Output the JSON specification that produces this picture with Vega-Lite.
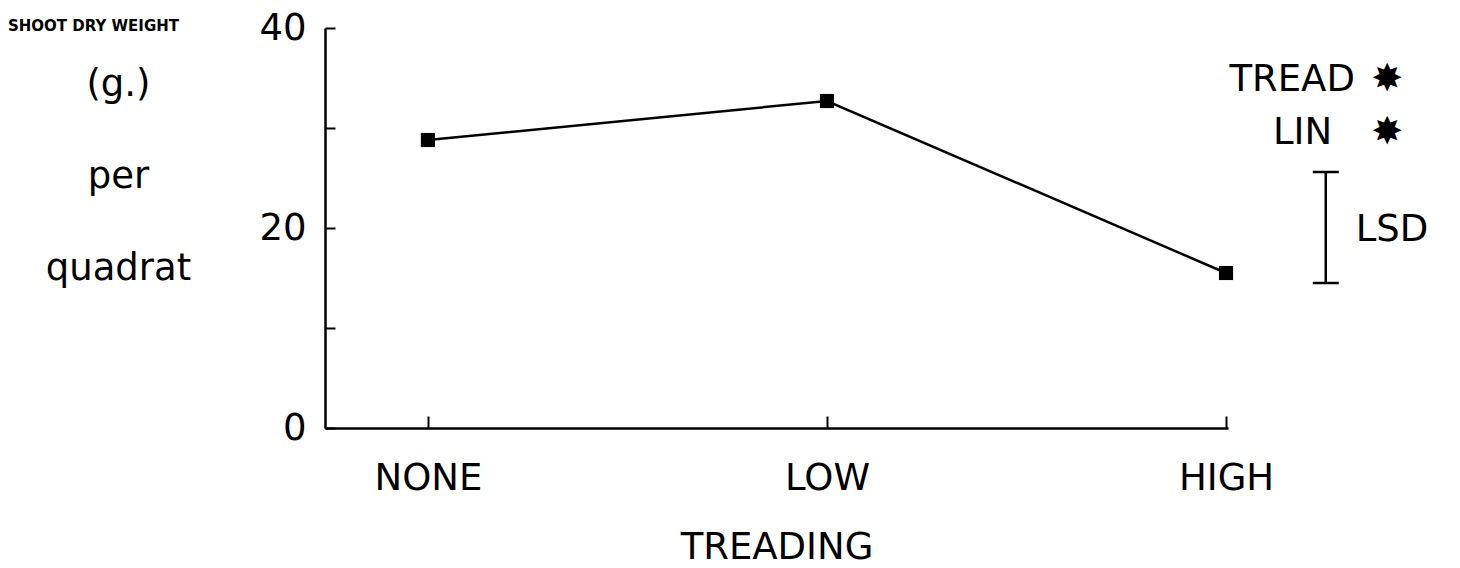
{
  "$schema": "https://vega.github.io/schema/vega-lite/v6.json",
  "width": 903,
  "height": 400,
  "autosize": {"type": "none"},
  "padding": {"left": 325, "top": 28, "right": 232, "bottom": 140},
  "background": "white",
  "title": {
    "text": "SHOOT DRY WEIGHT",
    "anchor": "start",
    "frame": "group",
    "orient": "top",
    "offset": 0,
    "dx": -317,
    "dy": 25,
    "fontSize": 15,
    "fontWeight": "bold",
    "font": "DejaVu Sans",
    "color": "black"
  },
  "config": {
    "view": {"stroke": null},
    "font": "DejaVu Sans",
    "axis": {
      "domainColor": "black",
      "domainWidth": 2.5,
      "tickColor": "black",
      "tickWidth": 2,
      "grid": false,
      "labelColor": "black",
      "titleColor": "black",
      "labelFont": "DejaVu Sans",
      "titleFont": "DejaVu Sans",
      "labelFontWeight": "normal",
      "titleFontWeight": "normal"
    }
  },
  "datasets": {
    "growth": [
      {"treading": "NONE", "level": 0, "weight": 28.8},
      {"treading": "LOW", "level": 1, "weight": 32.7},
      {"treading": "HIGH", "level": 2, "weight": 15.5}
    ],
    "lsd": [
      {"label": "LSD", "lsd_low": 14.5, "lsd_high": 25.6}
    ]
  },
  "layer": [
    {
      "data": {"name": "growth"},
      "mark": {"type": "line", "color": "black", "strokeWidth": 2.5},
      "encoding": {
        "x": {
          "field": "level",
          "type": "quantitative",
          "scale": {"domain": [-0.258, 2.005], "nice": false, "zero": false},
          "axis": {
            "values": [0, 1, 2],
            "labelExpr": "['NONE','LOW','HIGH'][datum.value]",
            "tickSize": -12,
            "labelFontSize": 37,
            "labelPadding": 44,
            "labelFlush": false,
            "title": "TREADING",
            "titleFontSize": 37,
            "titlePadding": 33
          }
        },
        "y": {
          "field": "weight",
          "type": "quantitative",
          "scale": {"domain": [0, 40], "nice": false},
          "axis": {
            "values": [0, 10, 20, 30, 40],
            "labelExpr": "datum.value % 20 == 0 ? datum.label : ''",
            "tickSize": -10,
            "labelFontSize": 37,
            "labelPadding": 29,
            "title": ["(g.)", "per", "quadrat"],
            "titleFontSize": 37,
            "titleAngle": 0,
            "titleAlign": "center",
            "titleBaseline": "top",
            "titleLineHeight": 92,
            "titleX": -207,
            "titleY": 38
          }
        }
      }
    },
    {
      "data": {"name": "growth"},
      "mark": {"type": "point", "shape": "square", "filled": true, "color": "black", "size": 200, "opacity": 1},
      "encoding": {
        "x": {"field": "level", "type": "quantitative"},
        "y": {"field": "weight", "type": "quantitative"}
      }
    },
    {
      "data": {"name": "lsd"},
      "mark": {"type": "rule", "color": "black", "strokeWidth": 2.5},
      "encoding": {
        "x": {"datum": 2.25},
        "y": {"field": "lsd_low", "type": "quantitative"},
        "y2": {"field": "lsd_high"}
      }
    },
    {
      "data": {"name": "lsd"},
      "mark": {"type": "tick", "orient": "horizontal", "color": "black", "thickness": 2.5, "size": 26, "opacity": 1},
      "encoding": {
        "x": {"datum": 2.25},
        "y": {"field": "lsd_low", "type": "quantitative"}
      }
    },
    {
      "data": {"name": "lsd"},
      "mark": {"type": "tick", "orient": "horizontal", "color": "black", "thickness": 2.5, "size": 26, "opacity": 1},
      "encoding": {
        "x": {"datum": 2.25},
        "y": {"field": "lsd_high", "type": "quantitative"}
      }
    },
    {
      "data": {"name": "lsd"},
      "mark": {"type": "text", "align": "left", "baseline": "middle", "fontSize": 37, "color": "black"},
      "encoding": {
        "x": {"datum": 2.325},
        "y": {"datum": 19.8},
        "text": {"field": "label"}
      }
    },
    {
      "data": {"values": [{}]},
      "mark": {"type": "text", "text": "TREAD", "align": "right", "baseline": "middle", "fontSize": 37, "color": "black"},
      "encoding": {
        "x": {"datum": 2.323},
        "y": {"datum": 34.8}
      }
    },
    {
      "data": {"values": [{}]},
      "mark": {"type": "text", "text": "LIN", "align": "right", "baseline": "middle", "fontSize": 37, "color": "black"},
      "encoding": {
        "x": {"datum": 2.266},
        "y": {"datum": 29.5}
      }
    },
    {
      "data": {"values": [{}]},
      "mark": {"type": "text", "text": "✸", "align": "center", "baseline": "middle", "fontSize": 38, "color": "black"},
      "encoding": {
        "x": {"datum": 2.404},
        "y": {"datum": 34.8}
      }
    },
    {
      "data": {"values": [{}]},
      "mark": {"type": "text", "text": "✸", "align": "center", "baseline": "middle", "fontSize": 38, "color": "black"},
      "encoding": {
        "x": {"datum": 2.404},
        "y": {"datum": 29.5}
      }
    }
  ]
}
